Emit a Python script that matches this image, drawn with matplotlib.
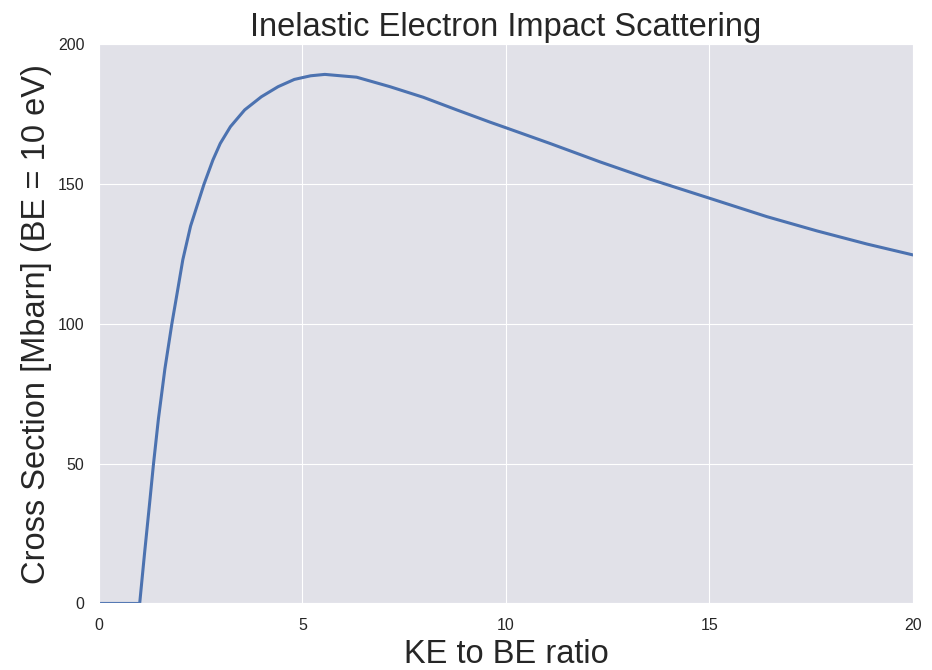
"""Inelastic electron impact scattering cross section, seaborn darkgrid look."""

import matplotlib

matplotlib.use("Agg")
import matplotlib.pyplot as plt
import seaborn as sns

# values (KE/BE ratio vs cross section, Mbarn)
ke_ratio = [0.0, 1.0, 1.12, 1.245, 1.34, 1.46, 1.62, 1.79, 1.92, 2.06,
            2.25, 2.58, 2.80, 2.98, 3.23, 3.58, 3.99, 4.40, 4.80, 5.20,
            5.55, 6.33, 7.15, 7.97, 8.79, 9.61, 10.0, 11.08, 12.31, 13.54,
            15.0, 16.41, 17.64, 18.87, 20.0]
cross_section = [0.0, 0.0, 18.0, 36.0, 50.0, 66.0, 84.0, 100.0, 111.0,
                 123.0, 135.0, 150.0, 158.7, 164.6, 170.6, 176.6, 181.3,
                 184.9, 187.5, 188.8, 189.3, 188.3, 184.9, 181.1, 176.6,
                 172.2, 170.2, 164.6, 158.0, 151.8, 145.0, 138.4, 133.3,
                 128.6, 124.7]
x_ticks = [0, 5, 10, 15, 20]
y_ticks = [0, 50, 100, 150, 200]

sns.set_style("darkgrid", {"axes.facecolor": "#E1E1E8"})
plt.rcParams["font.family"] = ["Liberation Sans", "DejaVu Sans"]

fig = plt.figure(figsize=(9.32, 6.70), dpi=100)
ax = fig.add_axes([0.1062, 0.0993, 0.8734, 0.8343])

ax.plot(ke_ratio, cross_section, color="#4C72B0", linewidth=2.2,
        solid_joinstyle="round")

ax.set_xlim(0, 20)
ax.set_ylim(0, 200)
ax.set_xticks(x_ticks)
ax.set_yticks(y_ticks)
ax.tick_params(axis="both", labelsize=11.5, colors="#262626", pad=7)

ax.set_title("Inelastic Electron Impact Scattering", fontsize=23.5, color="#262626")
ax.set_xlabel("KE to BE ratio", fontsize=23.5, color="#262626")
ax.set_ylabel("Cross Section [Mbarn] (BE = 10 eV)", fontsize=23.5, color="#262626")

fig.savefig("out.png", dpi=100)
plt.close(fig)
